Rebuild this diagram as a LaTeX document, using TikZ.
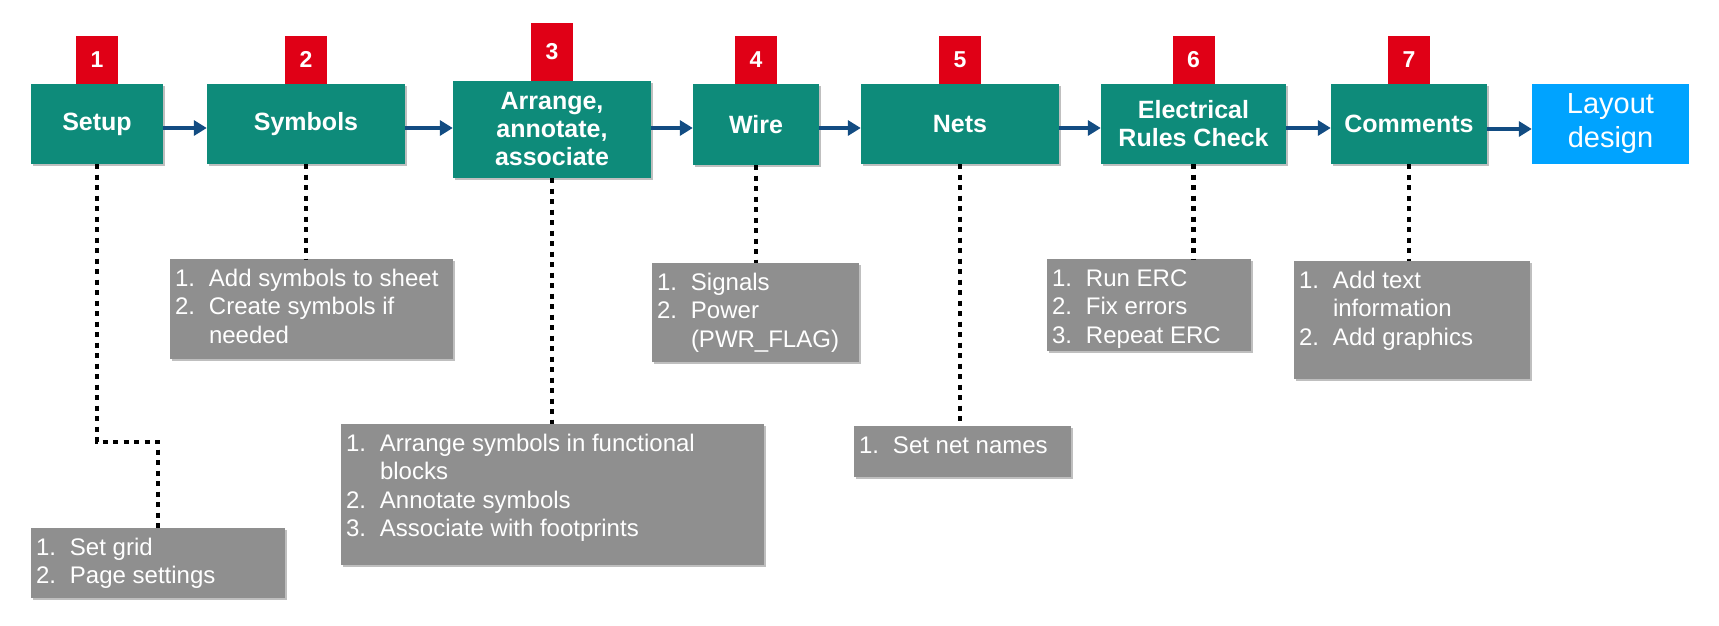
\documentclass[tikz,border=0pt]{standalone}
\usepackage{fontspec}
\setmainfont{Liberation Sans}
\usetikzlibrary{arrows.meta,shadows,calc}
\definecolor{teal1}{RGB}{14,139,122}
\definecolor{tagred}{RGB}{224,0,22}
\definecolor{arrblue}{RGB}{18,76,130}
\definecolor{lblue}{RGB}{0,163,255}
\definecolor{listgray}{RGB}{143,143,143}
\newcommand\itm[2]{\makebox[34pt][l]{#1}#2}
\newcommand\cnt[1]{\hspace*{34pt}#1}
\newcommand\fst{\rule{0pt}{18pt}}
\tikzset{
  stepbox/.style={fill=teal1, text=white, font=\fontsize{25}{28}\selectfont\bfseries,
    align=center, inner sep=0pt,
    drop shadow={shadow xshift=2pt,shadow yshift=-2pt,opacity=0.25,fill=black}},
  layoutbox/.style={fill=lblue, text=white, font=\fontsize{29}{34}\selectfont,
    align=center, inner sep=0pt},
  tag/.style={fill=tagred, text=white, font=\fontsize{23}{26}\selectfont\bfseries,
    minimum width=42pt, inner sep=0pt, anchor=south},
  flow/.style={draw=arrblue, line width=3.5pt, -{Triangle[length=13pt,width=15pt]}},
  listbox/.style={fill=listgray, inner sep=0pt,
    drop shadow={shadow xshift=2pt,shadow yshift=-2pt,opacity=0.25,fill=black}},
  listtext/.style={text=white, font=\fontsize{24}{28.5}\selectfont, align=left,
    inner sep=0pt, anchor=north west},
  dots/.style={line width=4.5pt, dash pattern=on 5pt off 5.5pt, black},
}
\begin{document}
\begin{tikzpicture}[x=1pt,y=1pt]
\path[use as bounding box] (0,0) rectangle (1719,-625);

% main step boxes
\node[stepbox, minimum width=132pt, minimum height=80pt] (setup) at (97,-124) {Setup};
\node[stepbox, minimum width=198pt, minimum height=80pt] (sym) at (306,-124) {Symbols};
\node[stepbox, minimum width=198pt, minimum height=97pt] (arr) at (552,-129.5) {Arrange,\\annotate,\\associate};
\node[stepbox, minimum width=126pt, minimum height=81pt] (wire) at (756,-124.5) {Wire};
\node[stepbox, minimum width=198pt, minimum height=80pt] (nets) at (960,-124) {Nets};
\node[stepbox, minimum width=185pt, minimum height=80pt] (erc) at (1193.5,-124) {Electrical\\Rules Check};
\node[stepbox, minimum width=156pt, minimum height=80pt] (comm) at (1409,-124) {Comments};
\node[layoutbox, minimum width=157pt, minimum height=80pt] (layout) at (1610.5,-124) {Layout\\design};

% number tags
\node[tag, minimum height=48pt] (n1) at (setup.north) {1};
\node[tag, minimum height=48pt] (n2) at (sym.north) {2};
\node[tag, minimum height=58pt] (n3) at (arr.north) {3};
\node[tag, minimum height=48pt] (n4) at (wire.north) {4};
\node[tag, minimum height=48pt] (n5) at (nets.north) {5};
\node[tag, minimum height=48pt] (n6) at (erc.north) {6};
\node[tag, minimum height=48pt] (n7) at (comm.north) {7};

% flow arrows
\draw[flow] (setup.east |- 0,-128) -- (sym.west |- 0,-128);
\draw[flow] (sym.east |- 0,-128) -- (arr.west |- 0,-128);
\draw[flow] (arr.east |- 0,-128) -- (wire.west |- 0,-128);
\draw[flow] (wire.east |- 0,-128) -- (nets.west |- 0,-128);
\draw[flow] (nets.east |- 0,-128) -- (erc.west |- 0,-128);
\draw[flow] (erc.east |- 0,-128) -- (comm.west |- 0,-128);
\draw[flow] (comm.east |- 0,-129) -- (layout.west |- 0,-129);

% list boxes
\node[listbox, minimum width=254pt, minimum height=70pt] (grid) at (158,-563) {};
\node[listbox, minimum width=283pt, minimum height=100pt] (symlist) at (311.5,-309) {};
\node[listbox, minimum width=423pt, minimum height=141pt] (arrlist) at (552.5,-494.5) {};
\node[listbox, minimum width=207pt, minimum height=99pt] (wirelist) at (755.5,-312.5) {};
\node[listbox, minimum width=217pt, minimum height=51pt] (netlist) at (962.5,-451.5) {};
\node[listbox, minimum width=204pt, minimum height=92pt] (erclist) at (1149,-305) {};
\node[listbox, minimum width=236pt, minimum height=118pt] (commlist) at (1412,-320) {};

% list texts
\node[listtext] (gridt) at ($(grid.north west)+(5,-9)$)
  {\fst\itm{1.}{Set grid}\\\itm{2.}{Page settings}};
\node[listtext] (symt) at ($(symlist.north west)+(5,-9)$)
  {\fst\itm{1.}{Add symbols to sheet}\\\itm{2.}{Create symbols if}\\\cnt{needed}};
\node[listtext] (arrt) at ($(arrlist.north west)+(5,-9)$)
  {\fst\itm{1.}{Arrange symbols in functional}\\\cnt{blocks}\\\itm{2.}{Annotate symbols}\\\itm{3.}{Associate with footprints}};
\node[listtext] (wiret) at ($(wirelist.north west)+(5,-9)$)
  {\fst\itm{1.}{Signals}\\\itm{2.}{Power}\\\cnt{(PWR\_FLAG)}};
\node[listtext] (nett) at ($(netlist.north west)+(5,-9)$)
  {\fst\itm{1.}{Set net names}};
\node[listtext] (erct) at ($(erclist.north west)+(5,-9)$)
  {\fst\itm{1.}{Run ERC}\\\itm{2.}{Fix errors}\\\itm{3.}{Repeat ERC}};
\node[listtext] (commt) at ($(commlist.north west)+(5,-9)$)
  {\fst\itm{1.}{Add text}\\\cnt{information}\\\itm{2.}{Add graphics}};

% dotted connectors
\draw[dots] (setup.south) -- (setup.south |- 0,-442) -| (grid.north);
\draw[dots] (sym.south) -- (sym.south |- symlist.north);
\draw[dots] (arr.south) -- (arr.south |- arrlist.north);
\draw[dots] (wire.south) -- (wire.south |- wirelist.north);
\draw[dots] (nets.south) -- (nets.south |- netlist.north);
\draw[dots] (erc.south) -- (erc.south |- erclist.north);
\draw[dots] (comm.south) -- (comm.south |- commlist.north);
\end{tikzpicture}
\end{document}
